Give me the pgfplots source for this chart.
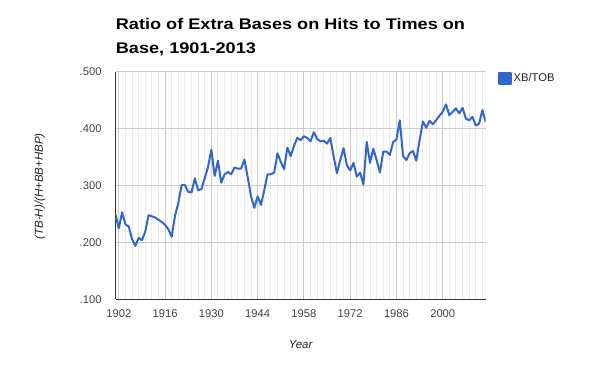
\documentclass[border=0pt]{standalone}
\usepackage{graphicx}
\usepackage{pgfplots}
\usepackage{pgfplotstable}
\pgfplotsset{compat=1.18}
\usepackage{fontspec}
\setmainfont{Liberation Sans}
\definecolor{gline}{HTML}{3366CC}
\definecolor{majgrid}{HTML}{CCCCCC}
\definecolor{mingrid}{HTML}{EBEBEB}
\definecolor{axcol}{HTML}{333333}
\definecolor{ticktext}{HTML}{444444}
\definecolor{labtext}{HTML}{222222}

\pgfplotstableread{
year val
1901 .249
1902 .225
1903 .253
1904 .232
1905 .228
1906 .206
1907 .194
1908 .208
1909 .204
1910 .219
1911 .248
1912 .246
1913 .244
1914 .240
1915 .236
1916 .231
1917 .223
1918 .210
1919 .247
1920 .269
1921 .301
1922 .301
1923 .289
1924 .288
1925 .313
1926 .292
1927 .294
1928 .313
1929 .333
1930 .363
1931 .317
1932 .344
1933 .305
1934 .320
1935 .324
1936 .320
1937 .332
1938 .330
1939 .330
1940 .346
1941 .315
1942 .281
1943 .261
1944 .281
1945 .266
1946 .292
1947 .320
1948 .320
1949 .323
1950 .357
1951 .342
1952 .329
1953 .367
1954 .352
1955 .370
1956 .384
1957 .380
1958 .387
1959 .384
1960 .378
1961 .394
1962 .382
1963 .378
1964 .379
1965 .374
1966 .384
1967 .351
1968 .322
1969 .345
1970 .366
1971 .336
1972 .327
1973 .340
1974 .316
1975 .323
1976 .302
1977 .377
1978 .340
1979 .365
1980 .345
1981 .323
1982 .360
1983 .360
1984 .354
1985 .377
1986 .381
1987 .415
1988 .352
1989 .345
1990 .357
1991 .361
1992 .344
1993 .380
1994 .413
1995 .402
1996 .414
1997 .408
1998 .415
1999 .423
2000 .430
2001 .443
2002 .424
2003 .430
2004 .436
2005 .427
2006 .437
2007 .418
2008 .415
2009 .421
2010 .406
2011 .409
2012 .433
2013 .412
}\xbtob

\begin{document}
\begin{tikzpicture}[x=1pt,y=1pt]
\path[use as bounding box] (0pt,0pt) rectangle (600pt,371pt);
\node[anchor=base west, inner sep=0pt, font=\fontsize{15.4}{18}\selectfont\bfseries] at (115.7pt,341.7pt) {\scalebox{1.177}[1]{Ratio of Extra Bases on Hits to Times on}};
\node[anchor=base west, inner sep=0pt, font=\fontsize{15.4}{18}\selectfont\bfseries] at (115.7pt,317.7pt) {\scalebox{1.177}[1]{Base, 1901-2013}};
\begin{axis}[
  at={(115.5pt,71.7pt)}, anchor=south west,
  scale only axis, width=370.2pt, height=227.3pt,
  xmin=1901, xmax=2013, ymin=0.1, ymax=0.5,
  axis x line*=bottom, axis y line*=left,
  axis line style={-, axcol, line width=1pt},
  xtick={1902,1916,1930,1944,1958,1972,1986,2000},
  xticklabels={1902,1916,1930,1944,1958,1972,1986,2000},
  minor xtick={1904,1906,...,2012},
  ytick={0.1,0.2,0.3,0.4,0.5},
  yticklabels={.100,.200,.300,.400,.500},
  major tick length=0pt, minor tick length=0pt,
  xmajorgrids, ymajorgrids, xminorgrids,
  major grid style={majgrid, line width=1pt},
  minor grid style={mingrid, line width=1pt},
  /pgf/number format/assume math mode=true,
  xticklabel style={font=\fontsize{11.2}{13}\selectfont, text=ticktext, inner sep=0pt, anchor=north, yshift=-9.7pt},
  yticklabel style={font=\fontsize{11.2}{13}\selectfont, text=ticktext, inner sep=0pt, anchor=east, xshift=-13.8pt},
  xlabel={Year},
  ylabel={(TB-H)/(H+BB+HBP)},
  xlabel style={font=\fontsize{11.5}{13}\selectfont\itshape, text=labtext, at={(axis description cs:0.5,-0.2)}, anchor=center},
  ylabel style={font=\fontsize{11.5}{13}\selectfont\itshape, text=labtext, at={(axis description cs:-0.204,0.497)}, anchor=center},
  legend style={at={(axis description cs:1.0332,1.003)}, anchor=north west, draw=none, fill=none, inner sep=0pt, font=\fontsize{11.2}{13}\selectfont, text=labtext},
  legend cell align=left,
  legend image code/.code={\fill[gline] (0pt,-5.7pt) rectangle (11.4pt,5.7pt);},
]
\addplot[gline, line width=2pt, line join=round] table[x=year, y=val] {\xbtob};
\addlegendentry{XB/TOB}
\end{axis}
\end{tikzpicture}
\end{document}
